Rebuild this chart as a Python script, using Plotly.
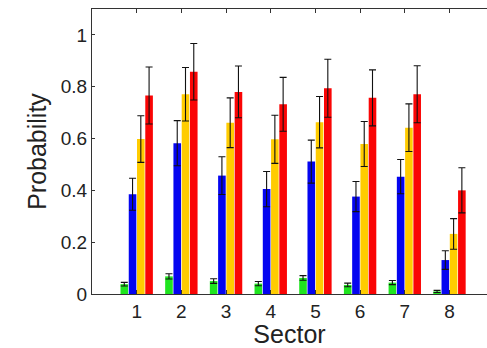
import plotly.graph_objects as go

sectors = [1, 2, 3, 4, 5, 6, 7, 8]

green = [0.038, 0.068, 0.050, 0.040, 0.062, 0.035, 0.044, 0.010]
green_err = [0.007, 0.010, 0.009, 0.008, 0.009, 0.007, 0.008, 0.004]

blue = [0.385, 0.582, 0.457, 0.405, 0.511, 0.376, 0.453, 0.131]
blue_err = [0.062, 0.087, 0.073, 0.068, 0.083, 0.058, 0.066, 0.036]

yellow = [0.598, 0.771, 0.661, 0.597, 0.663, 0.579, 0.642, 0.232]
yellow_err = [0.090, 0.103, 0.096, 0.093, 0.099, 0.087, 0.092, 0.059]

red = [0.766, 0.858, 0.780, 0.732, 0.794, 0.757, 0.771, 0.400]
red_err = [0.110, 0.109, 0.100, 0.104, 0.112, 0.108, 0.110, 0.087]

y_ticks = [0, 0.2, 0.4, 0.6, 0.8, 1]
y_labels = ["0", "0.2", "0.4", "0.6", "0.8", "1"]

series = [
    (green, green_err, "#1fe51f"),
    (blue, blue_err, "#0505f0"),
    (yellow, yellow_err, "#ffcc00"),
    (red, red_err, "#fa0505"),
]

fig = go.Figure()
for vals, errs, color in series:
    fig.add_trace(go.Bar(
        x=sectors, y=vals,
        marker=dict(color=color, line=dict(width=0)),
        error_y=dict(type="data", array=errs, visible=True,
                     color="#111111", thickness=1.1, width=3.5),
        showlegend=False,
    ))

axis_color = "#333333"
font_color = "#222222"

fig.update_layout(
    width=487, height=348,
    margin=dict(l=92, r=0, t=9, b=54),
    paper_bgcolor="white", plot_bgcolor="white",
    barmode="group", bargap=0.26, bargroupgap=0.08,
    font=dict(family="Liberation Sans, Arial, sans-serif", color=font_color),
    xaxis=dict(
        range=[0, 8.84],
        tickvals=sectors, ticktext=[str(s) for s in sectors],
        ticks="inside", ticklen=4, tickcolor=axis_color,
        showline=True, linecolor=axis_color, linewidth=1.2,
        mirror="ticks", showgrid=False, zeroline=False,
        tickfont=dict(size=19),
        title=dict(text="Sector", font=dict(size=25), standoff=0),
    ),
    yaxis=dict(
        range=[0, 1.1],
        tickvals=y_ticks, ticktext=y_labels,
        ticks="inside", ticklen=3, tickcolor=axis_color,
        showline=True, linecolor=axis_color, linewidth=1.2,
        showgrid=False, zeroline=False,
        tickfont=dict(size=19),
        title=dict(text="Probability", font=dict(size=25), standoff=6),
    ),
)

fig.write_html("out.html")
